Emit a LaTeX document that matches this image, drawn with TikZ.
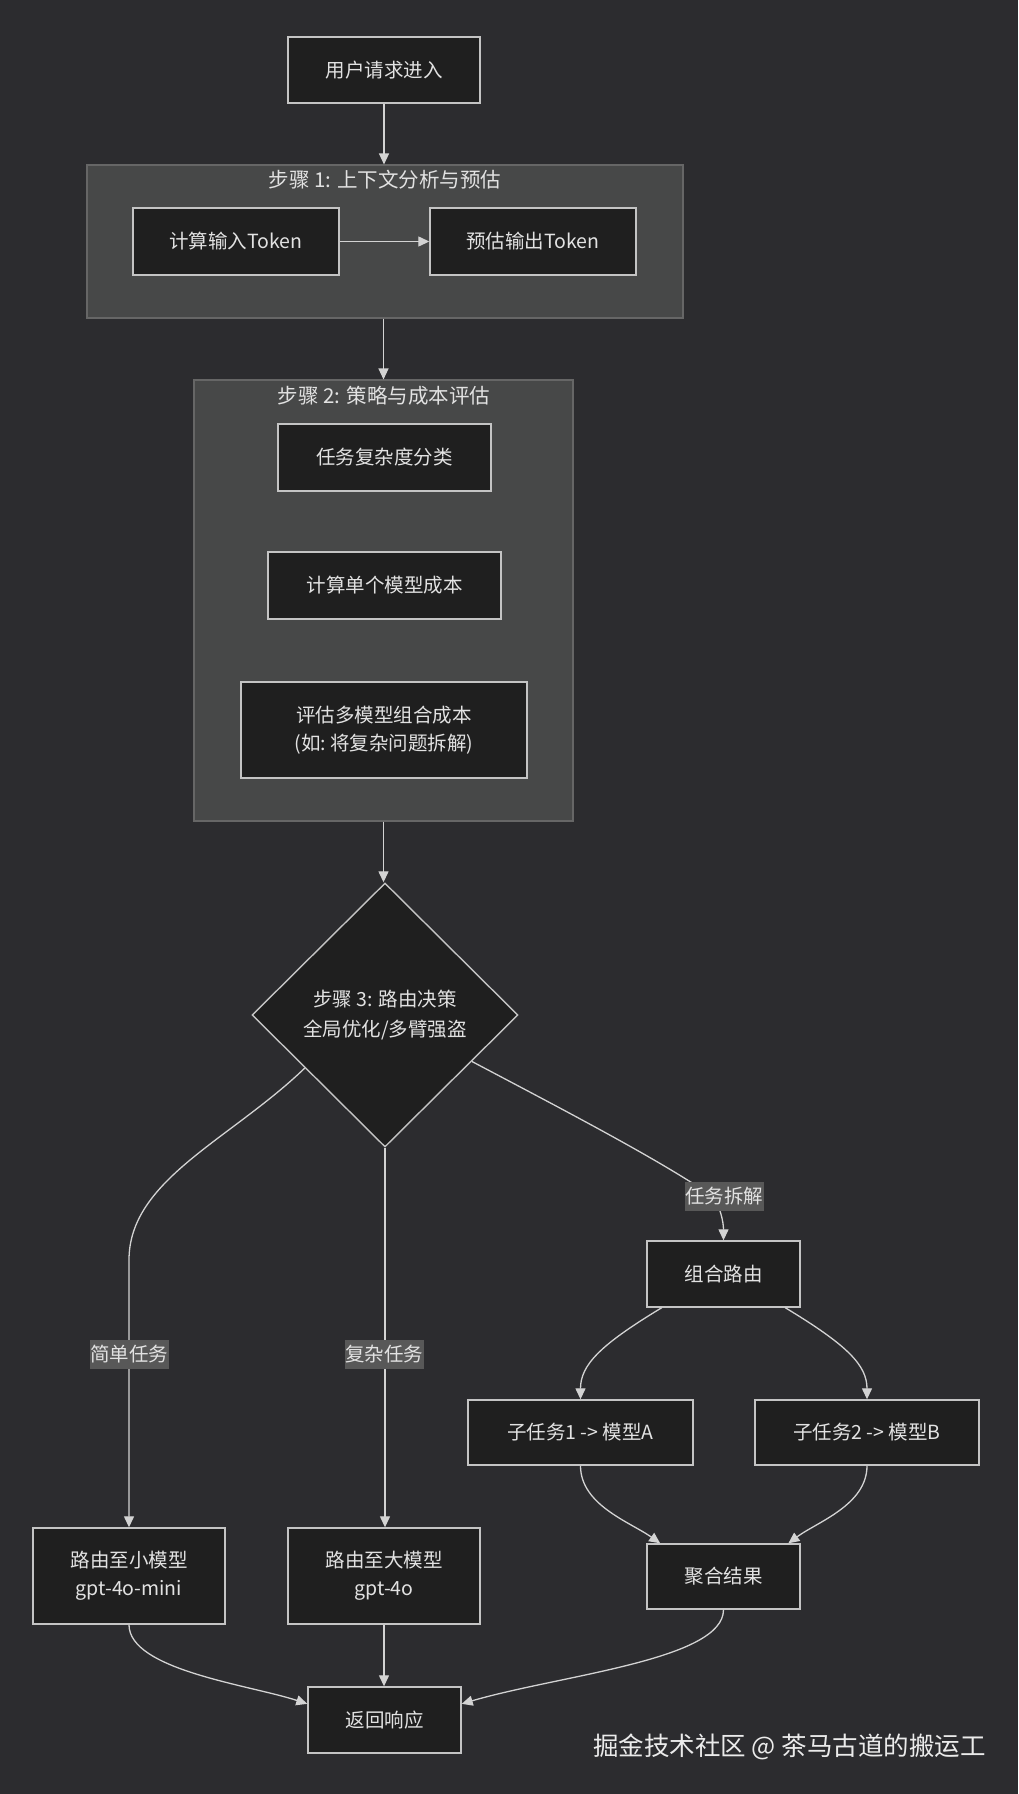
\documentclass[tikz,border=0pt]{standalone}
\usepackage{fontspec}
\setmainfont{Noto Sans CJK SC}
\usetikzlibrary{arrows.meta,shapes.geometric,calc}
\definecolor{bg}{HTML}{2C2C2F}
\definecolor{clfill}{HTML}{474848}
\definecolor{clline}{HTML}{666666}
\definecolor{nodefill}{HTML}{1F1F1F}
\definecolor{nodeline}{HTML}{C4C4C4}
\definecolor{edgec}{HTML}{D3D3D3}
\definecolor{lblfill}{HTML}{585858}
\definecolor{txt}{HTML}{E2E2E2}
\tikzset{
  box/.style={draw=nodeline, fill=nodefill, line width=1.4pt, text=txt, align=center, inner sep=0pt,
    font=\fontsize{19.5}{28}\selectfont},
  cluster/.style={draw=clline, fill=clfill, line width=1.1pt, inner sep=0pt},
  ctitle/.style={text=txt, font=\fontsize{20.5}{28}\selectfont, inner sep=0pt},
  arr/.style={draw=edgec, line width=1.3pt, -{Triangle[length=11pt,width=10pt]}},
  lbl/.style={fill=lblfill, text=txt, inner sep=0pt, minimum width=79pt, minimum height=29pt,
    font=\fontsize{19.5}{24}\selectfont},
  dia/.style={diamond, shape aspect=1, draw=nodeline, fill=nodefill, line width=1.4pt, text=txt,
    align=center, inner sep=0pt, minimum width=266pt, minimum height=264pt,
    font=\fontsize{19.5}{30}\selectfont},
}
\begin{document}
\begin{tikzpicture}[x=1pt,y=-1pt]
\fill[bg] (0,0) rectangle (1018,1794);
\useasboundingbox (0,0) rectangle (1018,1794);

% top node
\node[box, minimum width=192pt, minimum height=66pt] (u) at (384,70) {用户请求进入};

% step 1 cluster
\node[cluster, minimum width=596pt, minimum height=153pt] (s1) at (385,241.5) {};
\node[ctitle] (s1t) at (385,180) {步骤 1: 上下文分析与预估};
\node[box, minimum width=206pt, minimum height=67pt] (a) at (236,241.5) {计算输入Token};
\node[box, minimum width=206pt, minimum height=67pt] (b) at (533,241.5) {预估输出Token};

% step 2 cluster
\node[cluster, minimum width=379pt, minimum height=441pt] (s2) at (383.5,600.5) {};
\node[ctitle] (s2t) at (384,396) {步骤 2: 策略与成本评估};
\node[box, minimum width=213pt, minimum height=67pt] (t1) at (384.5,457.5) {任务复杂度分类};
\node[box, minimum width=233pt, minimum height=67pt] (t2) at (384.5,585.5) {计算单个模型成本};
\node[box, minimum width=286pt, minimum height=96pt] (t3) at (384,730) {评估多模型组合成本\\(如:\ 将复杂问题拆解)};

% decision
\node[dia] (d) at (385,1015) {步骤 3: 路由决策\\全局优化/多臂强盗};

% lower nodes
\node[box, minimum width=153pt, minimum height=66pt] (g) at (723.5,1274) {组合路由};
\node[box, minimum width=225pt, minimum height=65pt] (sa) at (580.5,1432.5) {子任务1 -> 模型A};
\node[box, minimum width=224pt, minimum height=65pt] (sb) at (867,1432.5) {子任务2 -> 模型B};
\node[box, minimum width=192pt, minimum height=96pt] (sm) at (129,1576) {路由至小模型\\gpt-4o-mini};
\node[box, minimum width=192pt, minimum height=96pt] (lm) at (384,1576) {路由至大模型\\gpt-4o};
\node[box, minimum width=153pt, minimum height=65pt] (agg) at (723.5,1576.5) {聚合结果};
\node[box, minimum width=153pt, minimum height=66pt] (ret) at (384.5,1720) {返回响应};

% edges
\draw[arr] (u.south) -- (u.south |- s1.north);
\draw[arr] (a.east) -- (b.west);
\draw[arr] (s2.north |- s1.south) -- (s2.north);
\draw[arr] (s2.south) -- (s2.south |- d.north);

\draw[arr] ($(d.west)!0.4!(d.south)$) .. controls (230,1140) and (129,1180) .. (129,1260) -- (sm.north);
\draw[arr] (d.south) -- (d.south |- lm.north);
\draw[arr] ($(d.east)!0.35!(d.south)$) .. controls (560,1108) and (660,1160) .. (712,1196)
   .. controls (720,1205) and (723.5,1222) .. (g.north);

\draw[arr] ($(g.south west)!0.1!(g.south east)$) .. controls (600,1345) and (580.5,1365) .. (sa.north);
\draw[arr] ($(g.south west)!0.9!(g.south east)$) .. controls (847,1345) and (867,1365) .. (sb.north);
\draw[arr] (sa.south) .. controls (580.5,1505) and (630,1522) .. ($(agg.north west)!0.09!(agg.north east)$);
\draw[arr] (sb.south) .. controls (867,1505) and (817,1522) .. ($(agg.north west)!0.92!(agg.north east)$);

\draw[arr] (sm.south) .. controls (129,1670) and (250,1685) .. ($(ret.north west)!0.26!(ret.south west)$);
\draw[arr] (lm.south) -- (lm.south |- ret.north);
\draw[arr] (agg.south) .. controls (723.5,1660) and (560,1675) .. ($(ret.north east)!0.26!(ret.south east)$);

% edge labels
\node[lbl] (l1) at (129,1354) {简单任务};
\node[lbl] (l2) at (384,1354) {复杂任务};
\node[lbl] (l3) at (724,1196) {任务拆解};

% watermark
\node[anchor=east, text=white!92!black, inner sep=0pt, font=\fontsize{25.5}{28}\selectfont] (wm) at (986,1747) {掘金技术社区 @ 茶马古道的搬运工};
\end{tikzpicture}
\end{document}
